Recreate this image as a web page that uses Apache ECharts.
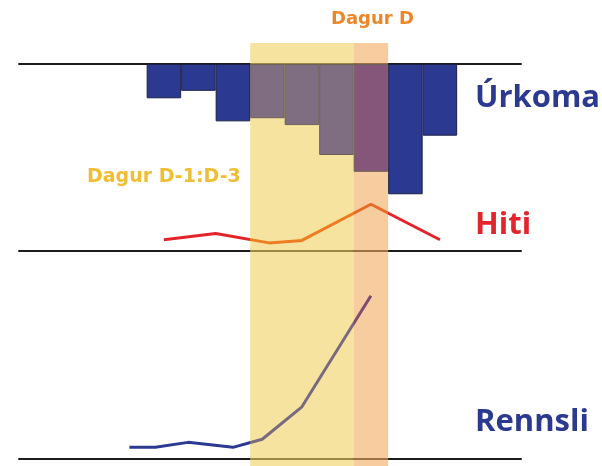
<!DOCTYPE html>
<html>
<head>
<meta charset="utf-8">
<script src="https://cdn.jsdelivr.net/npm/echarts@6/dist/echarts.min.js"></script>
<style>
  html, body { margin: 0; padding: 0; background: #ffffff; }
  #chart { width: 602px; height: 466px; }
</style>
</head>
<body>
<div id="chart"></div>
<script>
// Day positions (day D = 6) and daily precipitation (mm)
const urkomaDays = [0, 1, 2, 3, 4, 5, 6, 7, 8];
const urkoma = [5.5, 4.3, 9.2, 8.7, 9.8, 14.6, 17.3, 20.9, 11.5];

// Air temperature
const hitiDays = [0, 1.5, 3.05, 4, 6, 8];
const hiti = [1.8, 2.8, 1.3, 1.7, 7.5, 1.8];

// Runoff
const rennsliDays = [-1, -0.25, 0.7, 2, 2.85, 4, 6];
const rennsli = [5.6, 5.6, 8.0, 5.6, 9.5, 25.1, 78.5];

// Highlighted periods on the day axis
const bandD13 = [2.5, 5.5];   // days D-3 .. D-1
const bandD = [5.5, 6.5];     // day D

const blue = '#2B3990';
const red = '#E3252B';

function inBand(x, band) { return x >= band[0] && x < band[1]; }

function barColor(x) {
  if (inBand(x, bandD)) return '#86567A';
  if (inBand(x, bandD13)) return '#7F6D82';
  return blue;
}
function barBorder(x) {
  if (inBand(x, bandD) || inBand(x, bandD13)) return '#6e6257';
  return '#1b1f45';
}

const xRange = { min: -4.2, max: 10.35 };
const rule = { show: true, onZero: false, lineStyle: { color: '#1c1c1c', width: 2 } };

function xAx(gridIndex, position, showLine) {
  return {
    type: 'value', gridIndex, position, min: xRange.min, max: xRange.max,
    axisLine: showLine ? rule : { show: false },
    axisTick: { show: false }, axisLabel: { show: false }, splitLine: { show: false }
  };
}
function yAx(gridIndex, min, max, inverse) {
  return {
    type: 'value', gridIndex, min, max, inverse: !!inverse, show: false,
    splitLine: { show: false }
  };
}

const chart = echarts.init(document.getElementById('chart'), null, { renderer: 'canvas' });

chart.setOption({
  animation: false,
  backgroundColor: '#ffffff',
  grid: [
    { left: 19, right: 81, top: 64, height: 187 },   // precipitation + temperature
    { left: 19, right: 81, top: 251, height: 208 },  // runoff
    { left: 19, right: 81, top: 43, bottom: 0 }      // highlight bands
  ],
  xAxis: [
    xAx(0, 'top', true),
    xAx(0, 'bottom', true),
    xAx(1, 'bottom', true),
    xAx(2, 'bottom', false)
  ],
  yAxis: [
    yAx(0, 0, 30, true),
    yAx(0, 0, 30),
    yAx(1, 0, 100),
    yAx(2, 0, 1)
  ],
  visualMap: [
    {
      type: 'piecewise', show: false, seriesIndex: 2, dimension: 0,
      pieces: [
        { lt: bandD13[0], color: red },
        { gte: bandD13[0], lt: bandD[0], color: '#EE7D22' },
        { gte: bandD[0], lt: bandD[1], color: '#E86A2A' },
        { gte: bandD[1], color: red }
      ]
    },
    {
      type: 'piecewise', show: false, seriesIndex: 3, dimension: 0,
      pieces: [
        { lt: bandD13[0], color: blue },
        { gte: bandD13[0], lt: bandD[0], color: '#7A6A80' },
        { gte: bandD[0], lt: bandD[1], color: '#7E4C70' },
        { gte: bandD[1], color: blue }
      ]
    }
  ],
  series: [
    {
      name: 'bands', type: 'line', xAxisIndex: 3, yAxisIndex: 3, z: 2,
      data: [], silent: true,
      markArea: {
        silent: true,
        data: [
          [{ xAxis: bandD13[0], yAxis: 0, itemStyle: { color: 'rgba(242,208,97,0.6)' } },
           { xAxis: bandD13[1], yAxis: 1 }],
          [{ xAxis: bandD[0], yAxis: 0, itemStyle: { color: 'rgba(242,170,93,0.6)' } },
           { xAxis: bandD[1], yAxis: 1 }]
        ]
      }
    },
    {
      name: 'Úrkoma', type: 'bar', xAxisIndex: 0, yAxisIndex: 0, z: 3,
      barWidth: 34.5,
      data: urkoma.map((v, i) => ({
        value: [urkomaDays[i], v],
        itemStyle: { color: barColor(urkomaDays[i]), borderColor: barBorder(urkomaDays[i]), borderWidth: 1 }
      }))
    },
    {
      name: 'Hiti', type: 'line', xAxisIndex: 1, yAxisIndex: 1, z: 4,
      showSymbol: false, symbol: 'none',
      lineStyle: { width: 3 },
      data: hiti.map((v, i) => [hitiDays[i], v])
    },
    {
      name: 'Rennsli', type: 'line', xAxisIndex: 2, yAxisIndex: 2, z: 4,
      showSymbol: false, symbol: 'none',
      lineStyle: { width: 3 },
      data: rennsli.map((v, i) => [rennsliDays[i], v])
    }
  ],
  graphic: [
    { type: 'text', left: 475, top: 83, z: 10,
      style: { text: 'Úrkoma', font: 'bold 31px "Open Sans"', fill: blue } },
    { type: 'text', left: 475, top: 210, z: 10,
      style: { text: 'Hiti', font: 'bold 31px "Open Sans"', fill: red } },
    { type: 'text', left: 475, top: 407, z: 10,
      style: { text: 'Rennsli', font: 'bold 31px "Open Sans"', fill: blue } },
    { type: 'text', left: 331, top: 10, z: 10,
      style: { text: 'Dagur D', font: 'bold 18px "DejaVu Sans"', fill: '#EC8626' } },
    { type: 'text', left: 87, top: 168, z: 10,
      style: { text: 'Dagur D-1:D-3', font: 'bold 19px "DejaVu Sans"', fill: '#EFBE33' } }
  ]
});
</script>
</body>
</html>
